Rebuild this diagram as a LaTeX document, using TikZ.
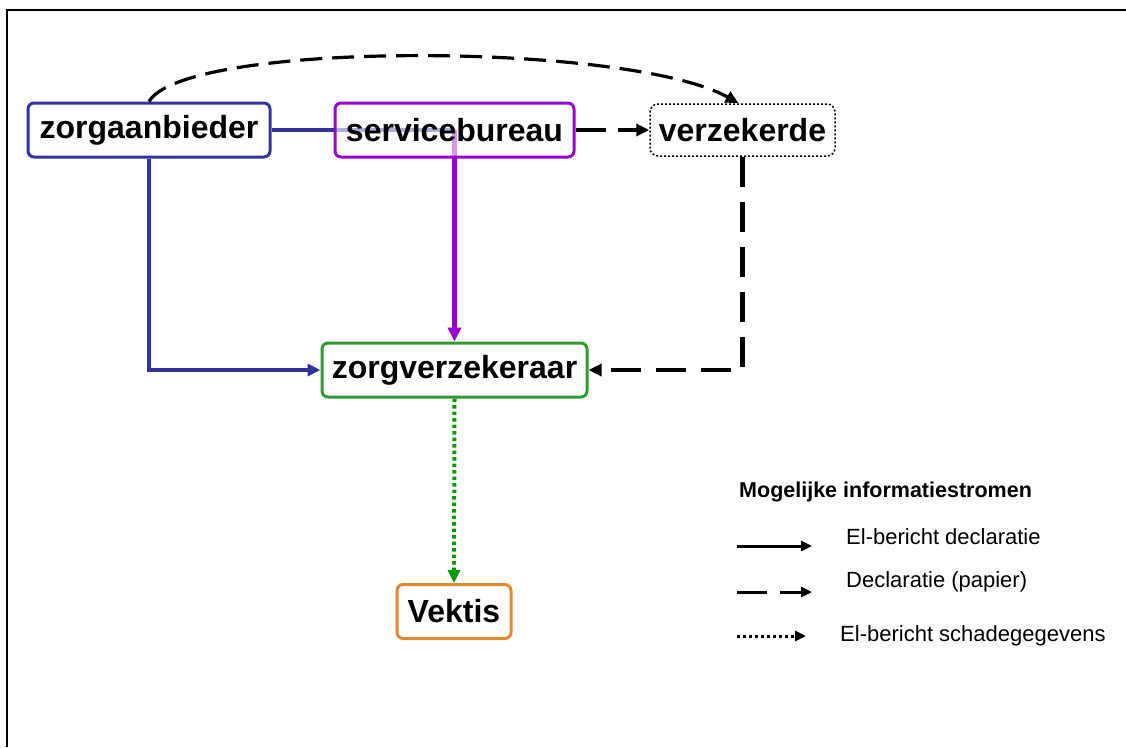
\documentclass[tikz,border=0pt]{standalone}
\usepackage{fontspec}
\setmainfont{Liberation Sans}
\usetikzlibrary{arrows.meta,backgrounds}
\definecolor{zablue}{RGB}{51,51,160}
\definecolor{sbpurple}{RGB}{153,0,204}
\definecolor{zvgreen}{RGB}{51,153,51}
\definecolor{dotgreen}{RGB}{0,153,0}
\definecolor{vkorange}{RGB}{224,138,48}
\tikzset{
  party/.style={draw, line width=3pt, rounded corners=6pt, fill=white,
    minimum height=54pt, inner sep=0pt, align=center,
    font=\fontsize{32}{38}\selectfont\bfseries},
  tip/.style={-{Triangle[length=13pt,width=12pt]}},
  smalltip/.style={-{Triangle[length=11pt,width=10pt]}},
  flowsolid/.style={tip, line width=3.2pt},
  flowpaper/.style={tip, black, line width=3.5pt, dash pattern=on 30pt off 12pt},
  flowcurve/.style={tip, black, line width=3.2pt, dash pattern=on 22pt off 10pt},
  flowdot/.style={tip, dotgreen, line width=4pt, dash pattern=on 3.5pt off 3pt},
  legendtext/.style={anchor=west, inner sep=0pt, font=\fontsize{22}{26}\selectfont},
}
\begin{document}
\begin{tikzpicture}[x=1pt,y=-1pt]
\useasboundingbox (0,0) rectangle (1126,747);
% outer frame: top and left edge only
\draw[line width=2.5pt] (7,747) -- (7,10) -- (1126,10);

% parties
\node[party, draw=zablue, minimum width=242pt] (za) at (149,130) {zorgaanbieder};
\node[party, draw=sbpurple, minimum width=239pt, fill opacity=0.6, text opacity=1] (sb) at (454.5,130) {servicebureau};
\node[party, draw=black, line width=1.5pt, dash pattern=on 2pt off 2pt, rounded corners=8pt, minimum width=185pt, minimum height=52pt] (vz) at (742.5,130) {verzekerde};
\node[party, draw=zvgreen, minimum width=265pt] (zv) at (454.5,370) {zorgverzekeraar};
\node[party, draw=vkorange, minimum width=114pt] (vk) at (454,611.5) {Vektis};

% information flows
\begin{scope}[on background layer]
  \draw[zablue, line width=3.2pt] (za.east) -- (sb.center);
  \draw[sbpurple, line width=4.5pt, -{Triangle[length=14pt,width=13pt]}] (sb.center) -- (zv.north);
\end{scope}
\draw[flowsolid, zablue] (za.south) |- (zv.west);
\draw[flowpaper] (sb.east) -- (vz.west);
\draw[flowcurve] (za.north) .. controls (185,40) and (630,42) .. ([xshift=-4pt]vz.north);
\draw[tip, black, line width=4.5pt, dash pattern=on 30pt off 15pt] (vz.south) |- (zv.east);
\draw[flowdot] (zv.south) -- (vk.north);

% legend
\node[anchor=west, inner sep=0pt, font=\fontsize{21.5}{26}\selectfont\bfseries] (lt) at (739,492) {Mogelijke informatiestromen};
\node[legendtext] (l1) at (846,537) {El-bericht declaratie};
\node[legendtext] (l2) at (846,582) {Declaratie (papier)};
\node[legendtext] (l3) at (840,636) {El-bericht schadegegevens};
\coordinate (a1) at (737,546); \coordinate (b1) at (812,546);
\coordinate (a2) at (737,592); \coordinate (b2) at (812,592);
\coordinate (a3) at (737,636); \coordinate (b3) at (806,636);
\draw[smalltip, line width=3pt] (a1) -- (b1);
\draw[smalltip, line width=3pt, dash pattern=on 30pt off 13pt] (a2) -- (b2);
\draw[smalltip, line width=3pt, dash pattern=on 3pt off 3pt] (a3) -- (b3);
\end{tikzpicture}
\end{document}
